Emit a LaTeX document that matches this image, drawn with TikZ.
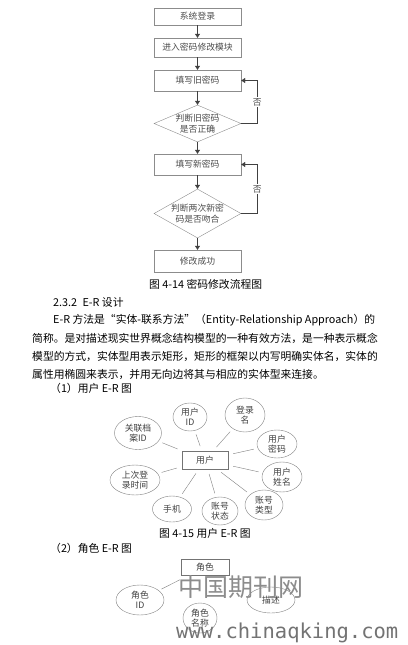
\documentclass[tikz,border=0pt]{standalone}
\usepackage{fontspec}
\setmainfont{Noto Sans CJK SC}
\newfontfamily\wmfont{DejaVu Sans Mono}
\usetikzlibrary{arrows.meta,positioning,shapes.geometric}

\begin{document}
\begin{tikzpicture}[x=1pt,y=-1pt, >={Triangle[length=4pt,width=5pt]},
  procbox/.style={draw=black!45,minimum width=87pt,inner sep=0pt,font=\fontsize{8.8}{10}\selectfont,text=black!70},
  decision/.style={diamond,draw=black!45,minimum width=87pt,inner sep=0pt},
  flowtxt/.style={align=center,font=\fontsize{8.8}{11}\selectfont,text=black!70},
  flowarrow/.style={->,draw=black!75},
  body/.style={anchor=west,inner sep=0pt,font=\fontsize{10.8}{13}\selectfont},
  entity/.style={draw=black!55,inner sep=0pt,font=\fontsize{8.8}{10}\selectfont,text=black!75},
  attr/.style={ellipse,draw=black!50,inner sep=0pt,align=center,font=\fontsize{8.8}{9.8}\selectfont,text=black!75},
  erline/.style={draw=black!50,shorten <=5pt,shorten >=4pt}]
\useasboundingbox[fill=white] (0,0) rectangle (407,645);

% password change flow
\node[procbox,minimum height=17pt] (login) at (197.5,16.5) {系统登录};
\node[procbox,minimum height=19pt] (enter) at (197.5,47.5) {进入密码修改模块};
\node[procbox,minimum height=21pt] (oldpw) at (197.5,80.5) {填写旧密码};
\node[decision,minimum height=37pt,label={[flowtxt]center:判断旧密码\\是否正确}] (chkold) at (197.5,123.5) {};
\node[procbox,minimum height=21pt] (newpw) at (197.5,164.5) {填写新密码};
\node[decision,minimum height=49pt,label={[flowtxt]center:判断两次新密\\码是否吻合}] (chknew) at (197.5,213.5) {};
\node[procbox,minimum height=22pt] (done) at (197.5,261) {修改成功};

\draw[flowarrow] (login) -- (enter);
\draw[flowarrow] (enter) -- (oldpw);
\draw[flowarrow] (oldpw) -- (chkold);
\draw[flowarrow] (chkold) -- (newpw);
\draw[flowarrow] (newpw) -- (chknew);
\draw[flowarrow] (chknew) -- (done);
\draw[flowarrow] (chkold.east) -- ++(16,0) |- node[pos=0.25,fill=white,inner sep=1pt,flowtxt] {否} (oldpw.east);
\draw[flowarrow] (chknew.east) -- ++(16,0) |- node[pos=0.25,fill=white,inner sep=1pt,flowtxt] {否} (newpw.east);

\node[body] (cap14) at (149,284) {图 4-14 密码修改流程图};

% text
\node[body] (sec) at (53,302) {2.3.2\enspace E-R 设计};
\node[body] (par1) at (53,320) {E-R 方法是“实体-联系方法”（Entity-Relationship Approach）的};
\node[body] (par2) at (32,338) {简称。是对描述现实世界概念结构模型的一种有效方法，是一种表示概念};
\node[body] (par3) at (32,356) {模型的方式，实体型用表示矩形，矩形的框架以内写明确实体名，实体的};
\node[body] (par4) at (32,374) {属性用椭圆来表示，并用无向边将其与相应的实体型来连接。};
\node[body] (sub1) at (50,388) {（1）用户 E-R 图};

% user E-R
\node[entity,minimum width=46pt,minimum height=18pt] (user) at (205,460) {用户};
\node[attr,minimum width=34pt,minimum height=28pt] (uid) at (190,417) {用户\\ID};
\node[attr,minimum width=40pt,minimum height=34pt] (uname) at (245,415) {登录\\名};
\node[attr,minimum width=40pt,minimum height=28pt] (upw) at (277,444) {用户\\密码};
\node[attr,minimum width=40pt,minimum height=30pt] (ureal) at (282,477) {用户\\姓名};
\node[attr,minimum width=38pt,minimum height=30pt] (utype) at (264,505) {账号\\类型};
\node[attr,minimum width=36pt,minimum height=28pt] (ustate) at (220,511) {账号\\状态};
\node[attr,minimum width=39pt,minimum height=26pt] (uphone) at (172,509) {手机};
\node[attr,minimum width=50pt,minimum height=30pt] (ulast) at (135,480) {上次登\\录时间};
\node[attr,minimum width=47pt,minimum height=33pt] (ufile) at (138,433) {关联档\\案ID};
\foreach \a in {uid,uname,upw,ureal,utype,ustate,uphone,ulast,ufile}
  \draw[erline] (user) -- (\a);

\node[body] (cap15) at (159,533) {图 4-15 用户 E-R 图};
\node[body] (sub2) at (50,548) {（2）角色 E-R 图};

% role E-R
\node[entity,minimum width=48pt,minimum height=16pt] (role) at (205,567) {角色};
\node[attr,minimum width=48pt,minimum height=30pt] (rid) at (140,600) {角色\\ID};
\node[attr,minimum width=34pt,minimum height=30pt] (rname) at (200,618) {角色\\名称};
\node[attr,minimum width=48pt,minimum height=26pt] (rdesc) at (271,600) {描述};
\draw[erline,shorten <=10pt,shorten >=3pt] (role) -- (rid);

% watermark
\node[text=black!45,font=\fontsize{25}{25}\selectfont,inner sep=0pt] (wmcn) at (241,587) {中国期刊网};
\node[anchor=west,text=black!55,font=\wmfont\fontsize{20.5}{20.5}\selectfont,inner sep=0pt] (wmurl) at (176,633) {www.chinaqking.com};
\end{tikzpicture}
\end{document}
